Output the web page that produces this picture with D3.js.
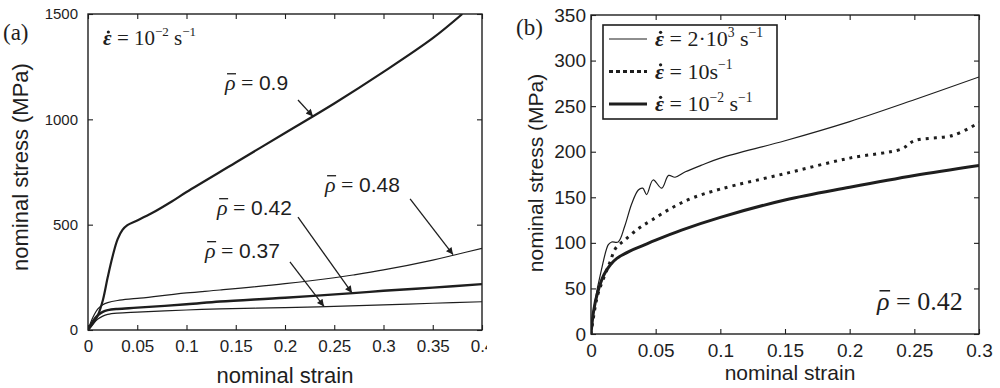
<!DOCTYPE html>
<html>
<head>
<meta charset="utf-8">
<script src="https://cdn.jsdelivr.net/npm/d3@7/dist/d3.min.js"></script>
<style>
  body { margin: 0; background: #fff; }
  svg { display: block; }
</style>
</head>
<body>
<svg id="chart" width="1000" height="388"></svg>
<script>
// ---- data ----

// panel (a): relative density series at 10^-2 s^-1
var strainRho09 = [0, 0.005, 0.01, 0.015, 0.02, 0.025, 0.03, 0.035, 0.04, 0.05, 0.065, 0.085, 0.1, 0.15, 0.2, 0.25, 0.3, 0.35, 0.38];
var stressRho09 = [0, 30, 70, 140, 250, 350, 430, 475, 498, 520, 555, 610, 655, 795, 935, 1075, 1225, 1385, 1500];

var strainRho048 = [0, 0.005, 0.01, 0.015, 0.02, 0.03, 0.05, 0.1, 0.134, 0.2, 0.25, 0.269, 0.3, 0.35, 0.371, 0.4];
var stressRho048 = [0, 60, 100, 120, 130, 140, 150, 176, 190, 220, 248, 261, 285, 332, 355, 388];

var strainRho042 = [0, 0.005, 0.01, 0.015, 0.02, 0.03, 0.05, 0.1, 0.134, 0.2, 0.269, 0.3, 0.35, 0.4];
var stressRho042 = [0, 42, 70, 86, 94, 100, 106, 122, 135, 153, 175, 186, 201, 218];

var strainRho037 = [0, 0.005, 0.01, 0.015, 0.02, 0.03, 0.05, 0.1, 0.134, 0.2, 0.25, 0.3, 0.35, 0.4];
var stressRho037 = [0, 28, 52, 66, 74, 80, 85, 95, 100, 106, 112, 119, 127, 134];

var rhoLabelsA = ['0.9', '0.48', '0.42', '0.37'];

// panel (b): rho = 0.42 at three strain rates
var strainFast = [0, 0.003, 0.008, 0.0134, 0.016, 0.021, 0.026, 0.0315, 0.0366, 0.04, 0.043, 0.048, 0.0547, 0.06, 0.065, 0.073, 0.085, 0.1, 0.15, 0.2, 0.25, 0.3];
var stressFast = [0, 35, 70, 98, 101, 101, 118, 143, 158, 160, 153, 169, 160, 174, 172, 178, 185, 193, 212, 233, 257, 282];

var strainMid = [0, 0.005, 0.01, 0.015, 0.019, 0.026, 0.037, 0.047, 0.062, 0.078, 0.1, 0.15, 0.2, 0.24, 0.25, 0.28, 0.3];
var stressMid = [0, 42, 62, 80, 94, 103, 116, 125, 138, 149, 159, 176, 193, 203, 212, 218, 232];

var strainSlow = [0, 0.002, 0.005, 0.01, 0.015, 0.02, 0.03, 0.04, 0.05, 0.07, 0.1, 0.15, 0.2, 0.25, 0.3];
var stressSlow = [0, 25, 45, 65, 76, 83, 91, 97, 103, 114, 128, 147, 161, 174, 185];

// tick values
var xTicksA = [0, 0.05, 0.1, 0.15, 0.2, 0.25, 0.3, 0.35, 0.4];
var yTicksA = [0, 500, 1000, 1500];
var xTicksB = [0, 0.05, 0.1, 0.15, 0.2, 0.25, 0.3];
var yTicksB = [0, 50, 100, 150, 200, 250, 300, 350];

// ---- drawing ----
var sans = "'Liberation Sans', Arial, Helvetica, sans-serif";
var serif = "'Liberation Serif', 'Times New Roman', serif";
var ink = '#1e1e1e';

var svg = d3.select('#chart');
var defs = svg.append('defs');

defs.append('marker')
    .attr('id', 'arrow')
    .attr('viewBox', '0 0 10 10')
    .attr('refX', 10)
    .attr('refY', 5)
    .attr('markerWidth', 10)
    .attr('markerHeight', 7)
    .attr('markerUnits', 'userSpaceOnUse')
    .attr('orient', 'auto')
    .append('path')
    .attr('d', 'M0,0 L10,5 L0,10 z')
    .attr('fill', ink);

// text made of pieces: plain, italic, bold, superscript; first char can get a bar or a dot
function richText(g, x, y, size, parts, mark) {
    var t = g.append('text')
        .attr('x', x)
        .attr('y', y)
        .attr('font-size', size)
        .attr('fill', ink);
    var shift = 0;
    parts.forEach(function(p) {
        var target = p.sup ? -size * 0.42 : 0;
        var ts = t.append('tspan')
            .text(p.t)
            .attr('font-family', p.f || serif)
            .attr('dy', target - shift);
        if (p.i) ts.attr('font-style', 'italic');
        if (p.b) ts.attr('font-weight', 'bold');
        if (p.sup) ts.attr('font-size', size * 0.62);
        if (p.s) ts.attr('font-size', p.s);
        shift = target;
    });
    if (mark) {
        var ext = t.node().getExtentOfChar(0);
        if (mark === 'bar') {
            g.append('line')
                .attr('x1', ext.x + ext.width * 0.2)
                .attr('x2', ext.x + ext.width * 1.05)
                .attr('y1', y - size * 0.74)
                .attr('y2', y - size * 0.74)
                .attr('stroke', ink)
                .attr('stroke-width', size * 0.06);
        } else {
            g.append('circle')
                .attr('cx', ext.x + ext.width * 0.62)
                .attr('cy', y - size * 0.62)
                .attr('r', size * 0.075)
                .attr('fill', ink);
        }
    }
    return t;
}

function drawPanel(p) {
    var g = svg.append('g');
    if (p.clipRight) {
        defs.append('clipPath').attr('id', p.id + '-outer')
            .append('rect').attr('x', 0).attr('y', 0).attr('width', p.clipRight).attr('height', 388);
        g.attr('clip-path', 'url(#' + p.id + '-outer)');
    }

    var x = d3.scaleLinear().domain(p.xDomain).range([p.left, p.right]);
    var y = d3.scaleLinear().domain(p.yDomain).range([p.bottom, p.top]);

    defs.append('clipPath').attr('id', p.id + '-plot')
        .append('rect')
        .attr('x', p.left).attr('y', p.top)
        .attr('width', p.right - p.left).attr('height', p.bottom - p.top);

    // axes, ticks pointing inward on all four sides
    var fmt = function(d) { return String(d); };
    var xAxis = g.append('g')
        .attr('transform', 'translate(0,' + p.bottom + ')')
        .call(d3.axisBottom(x).tickValues(p.xTicks).tickFormat(fmt)
            .tickSizeInner(-5).tickSizeOuter(0).tickPadding(p.xPad));
    xAxis.selectAll('text').attr('font-size', p.xFont);

    g.append('g')
        .attr('transform', 'translate(0,' + p.top + ')')
        .call(d3.axisTop(x).tickValues(p.xTicks).tickFormat('').tickSizeInner(-5).tickSizeOuter(0));

    var yAxis = g.append('g')
        .attr('transform', 'translate(' + p.left + ',0)')
        .call(d3.axisLeft(y).tickValues(p.yTicks).tickFormat(fmt)
            .tickSizeInner(-5).tickSizeOuter(0).tickPadding(p.yPad));
    yAxis.selectAll('text').attr('font-size', p.yFont);

    g.append('g')
        .attr('transform', 'translate(' + p.right + ',0)')
        .call(d3.axisRight(y).tickValues(p.yTicks).tickFormat('').tickSizeInner(-5).tickSizeOuter(0));

    g.selectAll('.domain').remove();
    g.selectAll('.tick line').attr('stroke', ink).attr('stroke-width', 1.1);
    g.selectAll('.tick text').attr('font-family', sans).attr('fill', ink);

    g.append('rect')
        .attr('x', p.left).attr('y', p.top)
        .attr('width', p.right - p.left).attr('height', p.bottom - p.top)
        .attr('fill', 'none')
        .attr('stroke', ink)
        .attr('stroke-width', 1.4);

    // curves
    var curves = g.append('g').attr('clip-path', 'url(#' + p.id + '-plot)');
    p.series.forEach(function(s) {
        var line = d3.line()
            .x(function(d) { return x(d[0]); })
            .y(function(d) { return y(d[1]); })
            .curve(d3.curveCatmullRom.alpha(0.5));
        var path = curves.append('path')
            .datum(d3.zip(s.strain, s.stress))
            .attr('d', line)
            .attr('fill', 'none')
            .attr('stroke', ink)
            .attr('stroke-width', s.width)
            .attr('stroke-linejoin', 'round');
        if (s.dash) path.attr('stroke-dasharray', s.dash);
    });

    // axis titles
    g.append('text')
        .attr('x', (p.left + p.right) / 2 + p.xTitleDx)
        .attr('y', p.xTitleY)
        .attr('text-anchor', 'middle')
        .attr('font-family', sans)
        .attr('font-size', p.titleFont)
        .attr('fill', ink)
        .text('nominal strain');

    g.append('text')
        .attr('transform', 'translate(' + p.yTitleX + ',' + p.yTitleY + ') rotate(-90)')
        .attr('text-anchor', 'middle')
        .attr('font-family', sans)
        .attr('font-size', p.titleFont)
        .attr('fill', ink)
        .text('nominal stress (MPa)');

    g.append('text')
        .attr('x', p.tagX).attr('y', p.tagY)
        .attr('font-family', serif)
        .attr('font-size', 23)
        .attr('fill', ink)
        .text(p.tag);

    return { g: g, x: x, y: y };
}

// ---- panel (a) ----
var a = drawPanel({
    id: 'pa',
    left: 88, right: 482, top: 14, bottom: 330,
    clipRight: 487,
    xDomain: [0, 0.4], yDomain: [0, 1500],
    xTicks: xTicksA, yTicks: yTicksA,
    xPad: 10, yPad: 10, xFont: 17, yFont: 15,
    titleFont: 22, xTitleDx: 0, xTitleY: 383,
    yTitleX: 28, yTitleY: 167,
    tag: '(a)', tagX: 3, tagY: 40,
    series: [
        { strain: strainRho09, stress: stressRho09, width: 2.2 },
        { strain: strainRho048, stress: stressRho048, width: 1.2 },
        { strain: strainRho042, stress: stressRho042, width: 2.4 },
        { strain: strainRho037, stress: stressRho037, width: 1.2 }
    ]
});

richText(a.g, 103, 45, 21, [
    { t: 'ε', i: true, b: true },
    { t: ' = 10' },
    { t: '−2', sup: true },
    { t: ' s' },
    { t: '−1', sup: true }
], 'dot');

// label anchor and arrow (tail -> tip) in data units, one per rho label
var annotA = [
    { lx: 0.139, ly: 1139, from: [0.2132, 1092], to: [0.2284, 1014] },
    { lx: 0.2406, ly: 655, from: [0.327, 622], to: [0.3706, 358] },
    { lx: 0.131, ly: 546, from: [0.2132, 536], to: [0.268, 176] },
    { lx: 0.1188, ly: 342, from: [0.205, 323], to: [0.2396, 112] }
];

annotA.forEach(function(n, i) {
    richText(a.g, a.x(n.lx), a.y(n.ly), 22, [
        { t: 'ρ', i: true },
        { t: ' = ' },
        { t: rhoLabelsA[i], f: sans, s: 21 }
    ], 'bar');
    a.g.append('line')
        .attr('x1', a.x(n.from[0])).attr('y1', a.y(n.from[1]))
        .attr('x2', a.x(n.to[0])).attr('y2', a.y(n.to[1]))
        .attr('stroke', ink)
        .attr('stroke-width', 1.3)
        .attr('marker-end', 'url(#arrow)');
});

// ---- panel (b) ----
var legendB = [
    { strain: strainFast, stress: stressFast, width: 1.2, label: [{ t: 'ε', i: true, b: true }, { t: ' = 2·10' }, { t: '3', sup: true }, { t: ' s' }, { t: '−1', sup: true }] },
    { strain: strainMid, stress: stressMid, width: 3, dash: '3,5', legendDash: '4,3', label: [{ t: 'ε', i: true, b: true }, { t: ' = 10s' }, { t: '−1', sup: true }] },
    { strain: strainSlow, stress: stressSlow, width: 3, label: [{ t: 'ε', i: true, b: true }, { t: ' = 10' }, { t: '−2', sup: true }, { t: ' s' }, { t: '−1', sup: true }] }
];

var b = drawPanel({
    id: 'pb',
    left: 591, right: 979, top: 15, bottom: 334,
    xDomain: [0, 0.3], yDomain: [0, 350],
    xTicks: xTicksB, yTicks: yTicksB,
    xPad: 10, yPad: 5, xFont: 19, yFont: 19,
    titleFont: 21, xTitleDx: 5, xTitleY: 380,
    yTitleX: 543, yTitleY: 173,
    tag: '(b)', tagX: 516, tagY: 35,
    series: legendB
});

// legend box
var lg = b.g.append('g');
lg.append('rect')
    .attr('x', 603).attr('y', 25)
    .attr('width', 174).attr('height', 94)
    .attr('fill', '#fff')
    .attr('stroke', ink)
    .attr('stroke-width', 1.6);

legendB.forEach(function(s, i) {
    var base = 46 + i * 32.5;
    var ln = lg.append('line')
        .attr('x1', 609).attr('x2', 647)
        .attr('y1', base - 7).attr('y2', base - 7)
        .attr('stroke', ink)
        .attr('stroke-width', s.width);
    if (s.legendDash) ln.attr('stroke-dasharray', s.legendDash);
    richText(lg, 655, base, 22, s.label, 'dot');
});

richText(b.g, 877, 310, 26, [
    { t: 'ρ', i: true },
    { t: ' = 0.42' }
], 'bar');
</script>
</body>
</html>
